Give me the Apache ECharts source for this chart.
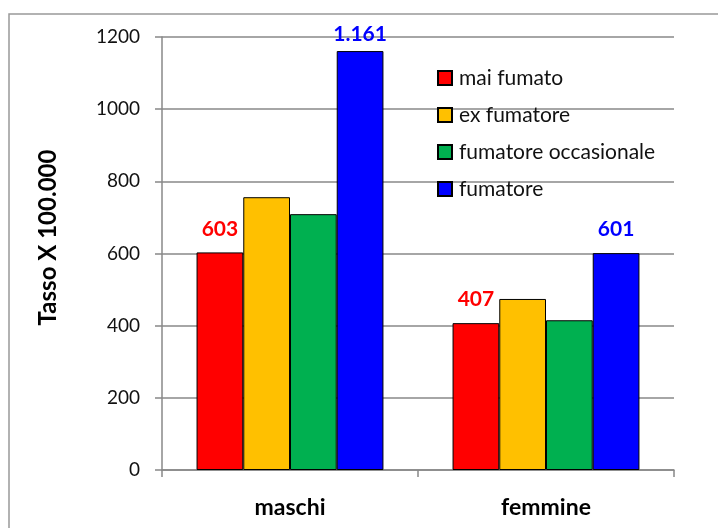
<!DOCTYPE html>
<html>
<head>
<meta charset="utf-8">
<script src="https://cdn.jsdelivr.net/npm/echarts@6/dist/echarts.min.js"></script>
<style>
  html, body { margin: 0; padding: 0; background: #fff; }
  #chart { width: 718px; height: 528px; }
</style>
</head>
<body>
<div id="chart"></div>
<script>
const categories = ['maschi', 'femmine'];
const maiFumato = [603, 407];
const exFumatore = [756, 474];
const fumatoreOccasionale = [709, 415];
const fumatore = [1161, 601];
const yTicks = [0, 200, 400, 600, 800, 1000, 1200];

const fontFamily = 'Lato, "Open Sans", sans-serif';

// separatore delle migliaia all'italiana
const fmt = v => String(v).replace(/\B(?=(\d{3})+(?!\d))/g, '.');

const chart = echarts.init(document.getElementById('chart'));

const makeSeries = (name, data, color, showLabel) => ({
  name: name,
  type: 'bar',
  // etichetta vicino al bordo superiore: meno distanza (come in Excel)
  data: data.map(v => (v > 1100 ? { value: v, label: { distance: 6 } } : v)),
  barGap: '0%',
  barCategoryGap: '27%',
  itemStyle: {
    color: color,
    borderColor: '#000',
    borderWidth: 1
  },
  label: {
    show: showLabel,
    position: 'top',
    distance: 13,
    color: color,
    fontFamily: fontFamily,
    fontWeight: 'bold',
    fontSize: 21,
    formatter: p => fmt(p.value)
  }
});

const option = {
  animation: false,
  backgroundColor: '#fff',
  graphic: [{
    type: 'rect',
    shape: { x: 9, y: 14, width: 720, height: 530 },
    style: { fill: 'none', stroke: '#999', lineWidth: 1.5 },
    silent: true
  }],
  legend: {
    orient: 'vertical',
    left: 437,
    top: 67,
    padding: 0,
    itemGap: 15,
    itemWidth: 14,
    itemHeight: 14,
    icon: 'rect',
    textStyle: {
      fontFamily: fontFamily,
      fontSize: 21,
      lineHeight: 22,
      color: '#111',
      padding: [0, 0, 0, 2]
    },
    data: ['mai fumato', 'ex fumatore', 'fumatore occasionale', 'fumatore']
  },
  grid: {
    left: 162,
    right: 44,
    top: 37,
    bottom: 58
  },
  xAxis: {
    type: 'category',
    data: categories,
    axisLine: { lineStyle: { color: '#888', width: 1.5 } },
    axisTick: { show: true, length: 7, lineStyle: { color: '#888', width: 1.5 } },
    axisLabel: {
      margin: 26,
      fontFamily: fontFamily,
      fontWeight: 'bold',
      fontSize: 23,
      color: '#000'
    }
  },
  yAxis: {
    type: 'value',
    min: 0,
    max: 1200,
    interval: 200,
    name: 'Tasso X 100.000',
    nameLocation: 'middle',
    nameGap: 102,
    nameRotate: 90,
    nameTextStyle: {
      fontFamily: fontFamily,
      fontWeight: 'bold',
      fontSize: 24,
      color: '#000',
      padding: [0, 0, 0, 32]
    },
    axisLine: { show: true, lineStyle: { color: '#888', width: 1.5 } },
    axisTick: { show: true, length: 7, lineStyle: { color: '#888', width: 1.5 } },
    axisLabel: {
      margin: 22,
      fontFamily: fontFamily,
      fontSize: 19,
      color: '#111',
      formatter: v => (yTicks.indexOf(v) >= 0 ? String(v) : '')
    },
    splitLine: { lineStyle: { color: '#888', width: 1.5 } }
  },
  series: [
    makeSeries('mai fumato', maiFumato, '#ff0000', true),
    makeSeries('ex fumatore', exFumatore, '#ffc000', false),
    makeSeries('fumatore occasionale', fumatoreOccasionale, '#00b050', false),
    makeSeries('fumatore', fumatore, '#0000ff', true)
  ]
};

chart.setOption(option);
</script>
</body>
</html>
